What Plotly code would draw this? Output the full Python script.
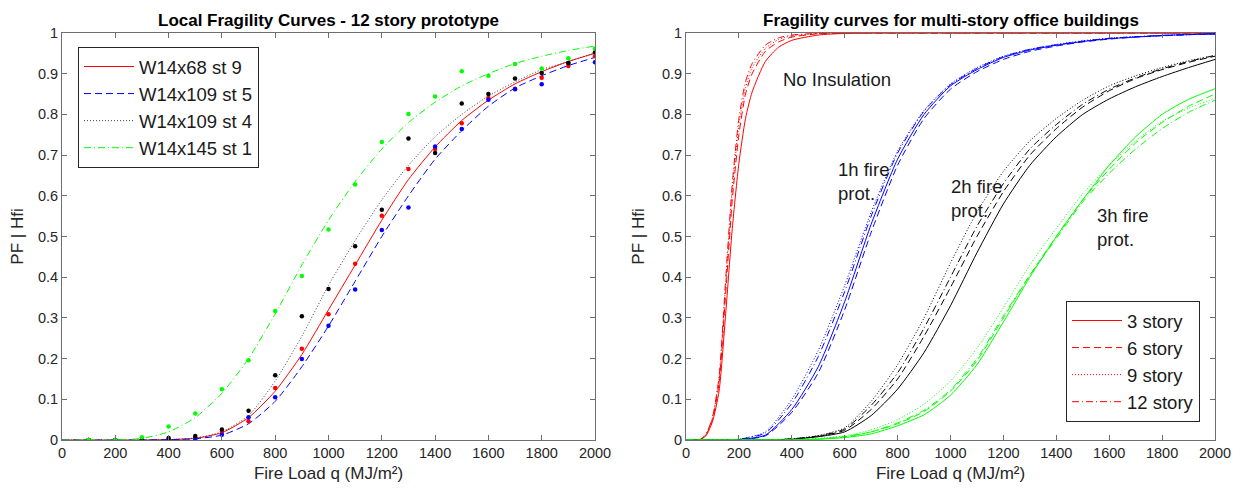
import plotly.graph_objects as go

# ---- left panel: local fragility curves (12 story prototype) ----
LOCAL_Q = [0, 100, 200, 300, 400, 500, 600, 700, 800, 900, 1000,
           1100, 1200, 1300, 1400, 1500, 1600, 1700, 1800, 1900, 2000]
LOCAL_NAMES = ["W14x68 st 9", "W14x109 st 5", "W14x109 st 4", "W14x145 st 1"]
LOCAL_FIT_RED = [0, 0, 0, 0, 0.001, 0.004, 0.018, 0.055, 0.12, 0.21, 0.32,
                 0.43, 0.54, 0.64, 0.72, 0.785, 0.835, 0.875, 0.905, 0.93, 0.95]
LOCAL_FIT_BLUE = [0, 0, 0, 0, 0.001, 0.003, 0.012, 0.04, 0.095, 0.18, 0.28,
                  0.39, 0.50, 0.60, 0.69, 0.76, 0.82, 0.865, 0.895, 0.92, 0.94]
LOCAL_FIT_BLACK = [0, 0, 0, 0, 0.001, 0.005, 0.02, 0.06, 0.145, 0.255, 0.38,
                   0.49, 0.59, 0.675, 0.745, 0.80, 0.845, 0.88, 0.91, 0.93, 0.952]
LOCAL_FIT_GREEN = [0, 0, 0, 0.004, 0.02, 0.055, 0.115, 0.20, 0.31, 0.43, 0.54,
                   0.635, 0.715, 0.78, 0.83, 0.87, 0.90, 0.925, 0.943, 0.957, 0.968]

PTS_Q = [100, 200, 300, 400, 500, 600, 700, 800, 900, 1000,
         1100, 1200, 1300, 1400, 1500, 1600, 1700, 1800, 1900, 2000]
PTS_RED = [0, 0, 0, 0, 0.005, 0.02, 0.046, 0.128, 0.224, 0.309,
           0.433, 0.551, 0.666, 0.715, 0.778, 0.840, 0.863, 0.890, 0.919, 0.943]
PTS_BLUE = [0, 0, 0, 0, 0.003, 0.013, 0.056, 0.105, 0.199, 0.281,
            0.370, 0.516, 0.571, 0.721, 0.764, 0.836, 0.862, 0.874, 0.926, 0.928]
PTS_BLACK = [0, 0, 0, 0.005, 0.01, 0.026, 0.072, 0.159, 0.304, 0.371,
             0.476, 0.566, 0.741, 0.705, 0.827, 0.850, 0.888, 0.902, 0.926, 0.953]
PTS_GREEN = [0, 0, 0.007, 0.033, 0.065, 0.125, 0.196, 0.317, 0.403, 0.517,
             0.628, 0.732, 0.801, 0.844, 0.906, 0.895, 0.924, 0.913, 0.938, 0.962]

# ---- right panel: multi-story office buildings ----
STORY_NAMES = ["3 story", "6 story", "9 story", "12 story"]
RED_Q = [0, 50, 75, 100, 125, 150, 175, 200, 225, 250, 300, 350, 400,
         500, 600, 800, 1000, 1500, 2000]
NOINS_3 = [0, 0, 0.01, 0.045, 0.12, 0.31, 0.52, 0.68, 0.79, 0.855, 0.93, 0.965,
           0.982, 0.995, 0.999, 1, 1, 1, 1]
NOINS_6 = [0, 0, 0.012, 0.05, 0.14, 0.36, 0.59, 0.75, 0.85, 0.90, 0.955, 0.978,
           0.99, 0.998, 1, 1, 1, 1, 1]
NOINS_9 = [0, 0, 0.013, 0.055, 0.15, 0.385, 0.615, 0.775, 0.865, 0.915, 0.962,
           0.984, 0.993, 0.999, 1, 1, 1, 1, 1]
NOINS_12 = [0, 0, 0.013, 0.055, 0.155, 0.395, 0.63, 0.79, 0.88, 0.925, 0.97,
            0.988, 0.995, 0.999, 1, 1, 1, 1, 1]

Q = LOCAL_Q
H1_3 = [0, 0, 0.001, 0.012, 0.075, 0.18, 0.34, 0.53, 0.69, 0.80, 0.87,
        0.91, 0.94, 0.958, 0.97, 0.979, 0.986, 0.99, 0.994, 0.996, 0.998]
H1_6 = [0, 0, 0.001, 0.01, 0.068, 0.165, 0.32, 0.51, 0.675, 0.79, 0.862,
        0.905, 0.935, 0.955, 0.968, 0.978, 0.985, 0.99, 0.993, 0.996, 0.997]
H1_9 = [0, 0, 0.002, 0.02, 0.10, 0.22, 0.38, 0.56, 0.71, 0.81, 0.875,
        0.915, 0.943, 0.96, 0.972, 0.981, 0.987, 0.991, 0.994, 0.996, 0.998]
H1_12 = [0, 0, 0.002, 0.017, 0.09, 0.205, 0.365, 0.55, 0.705, 0.808, 0.873,
         0.913, 0.942, 0.96, 0.971, 0.98, 0.987, 0.991, 0.994, 0.996, 0.998]

H2_3 = [0, 0, 0, 0, 0.002, 0.008, 0.02, 0.06, 0.125, 0.215, 0.33,
        0.46, 0.58, 0.675, 0.745, 0.80, 0.838, 0.868, 0.893, 0.915, 0.935]
H2_6 = [0, 0, 0, 0, 0.002, 0.009, 0.024, 0.075, 0.15, 0.255, 0.375,
        0.50, 0.61, 0.70, 0.765, 0.818, 0.858, 0.888, 0.91, 0.928, 0.943]
H2_9 = [0, 0, 0, 0, 0.003, 0.011, 0.03, 0.095, 0.185, 0.30, 0.435,
        0.56, 0.66, 0.735, 0.79, 0.835, 0.87, 0.895, 0.915, 0.932, 0.945]
H2_12 = [0, 0, 0, 0, 0.003, 0.01, 0.027, 0.085, 0.165, 0.275, 0.40,
         0.525, 0.63, 0.715, 0.775, 0.825, 0.862, 0.89, 0.912, 0.93, 0.945]

H3_3 = [0, 0, 0, 0, 0, 0.002, 0.006, 0.015, 0.035, 0.062, 0.11,
        0.185, 0.29, 0.40, 0.50, 0.59, 0.675, 0.745, 0.80, 0.837, 0.863]
H3_6 = [0, 0, 0, 0, 0, 0.002, 0.008, 0.02, 0.04, 0.07, 0.12,
        0.195, 0.30, 0.405, 0.50, 0.59, 0.665, 0.73, 0.78, 0.82, 0.85]
H3_9 = [0, 0, 0, 0, 0.001, 0.004, 0.01, 0.025, 0.05, 0.088, 0.145,
        0.225, 0.325, 0.43, 0.52, 0.605, 0.675, 0.735, 0.783, 0.815, 0.84]
H3_12 = [0, 0, 0, 0, 0, 0.002, 0.008, 0.02, 0.042, 0.073, 0.123,
         0.20, 0.305, 0.405, 0.495, 0.585, 0.655, 0.715, 0.765, 0.805, 0.835]

X_TICKS = [0, 200, 400, 600, 800, 1000, 1200, 1400, 1600, 1800, 2000]
Y_TICKS = [0, 0.1, 0.2, 0.3, 0.4, 0.5, 0.6, 0.7, 0.8, 0.9, 1]
Y_TICK_TEXT = ["0", "0.1", "0.2", "0.3", "0.4", "0.5", "0.6", "0.7", "0.8", "0.9", "1"]

RED, BLUE, BLACK, GREEN = "rgb(255,0,0)", "rgb(0,0,255)", "rgb(0,0,0)", "rgb(0,255,0)"
DASH = {"solid": "solid", "dash": "7px,4px", "dot": "1px,2px", "dashdot": "7px,3px,1px,3px"}
STYLES = ["solid", "dash", "dot", "dashdot"]
FONT = "Liberation Sans, Arial, sans-serif"

# the page body adds an 8px margin, so the figure is laid out in page px minus 8
W, H, OFF = 1232, 482, 8


def px_x(p):
    return (p - OFF) / W


def px_y(p):
    return 1 - (p - OFF) / H


fig = go.Figure()

local_fits = [LOCAL_FIT_RED, LOCAL_FIT_BLUE, LOCAL_FIT_BLACK, LOCAL_FIT_GREEN]
local_pts = [PTS_RED, PTS_BLUE, PTS_BLACK, PTS_GREEN]
local_cols = [RED, BLUE, "rgb(60,60,60)", GREEN]
for name, fit, col, st in zip(LOCAL_NAMES, local_fits, local_cols, STYLES):
    fig.add_trace(go.Scatter(x=LOCAL_Q, y=fit, name=name, mode="lines",
                             line=dict(color=col, width=1, dash=DASH[st], shape="spline", smoothing=0.6),
                             xaxis="x", yaxis="y", legend="legend"))
for pts, col in zip(local_pts, [RED, BLUE, BLACK, GREEN]):
    fig.add_trace(go.Scatter(x=PTS_Q, y=pts, mode="markers", showlegend=False,
                             marker=dict(color=col, size=4.5),
                             xaxis="x", yaxis="y"))

groups = [
    (RED_Q, [NOINS_3, NOINS_6, NOINS_9, NOINS_12], RED, True),
    (Q, [H1_3, H1_6, H1_9, H1_12], BLUE, False),
    (Q, [H2_3, H2_6, H2_9, H2_12], BLACK, False),
    (Q, [H3_3, H3_6, H3_9, H3_12], GREEN, False),
]
for xs, curves, col, show in groups:
    for name, ys, st in zip(STORY_NAMES, curves, STYLES):
        fig.add_trace(go.Scatter(x=xs, y=ys, name=name, mode="lines", showlegend=show,
                                 line=dict(color=col, width=1, dash=DASH[st], shape="spline", smoothing=0.6),
                                 xaxis="x2", yaxis="y2", legend="legend2"))

axis_common = dict(showline=True, mirror="ticks", linecolor="#6e6e6e", linewidth=1,
                   ticks="inside", ticklen=5, tickcolor="#6e6e6e", showgrid=False,
                   zeroline=False, automargin=False,
                   tickfont=dict(family=FONT, size=14.5, color="#262626"))
xa = dict(axis_common, range=[0, 2000], tickvals=X_TICKS,
          title=dict(text="Fire Load q (MJ/m²)", font=dict(family=FONT, size=17, color="#262626"), standoff=6))
ya = dict(axis_common, range=[0, 1], tickvals=Y_TICKS, ticktext=Y_TICK_TEXT,
          title=dict(text="PF | Hfi", font=dict(family=FONT, size=17, color="#262626"), standoff=12))

y_dom = [px_y(440), px_y(33)]
legend_common = dict(bgcolor="white", bordercolor="#262626", borderwidth=1, itemwidth=50,
                     font=dict(family=FONT, size=18.5, color="#1a1a1a"), tracegroupgap=0)
fig.update_layout(
    width=W, height=H, autosize=False,
    margin=dict(l=0, r=0, t=0, b=0, autoexpand=False),
    paper_bgcolor="white", plot_bgcolor="white",
    font=dict(family=FONT, color="#262626"),
    xaxis=dict(xa, domain=[px_x(62), px_x(595)], anchor="y"),
    yaxis=dict(ya, domain=y_dom, anchor="x"),
    xaxis2=dict(xa, domain=[px_x(686), px_x(1215)], anchor="y2"),
    yaxis2=dict(ya, domain=y_dom, anchor="x2"),
    legend=dict(legend_common, x=px_x(78), y=px_y(47), xanchor="left", yanchor="top"),
    legend2=dict(legend_common, x=px_x(1200), y=px_y(422), xanchor="right", yanchor="bottom"),
    showlegend=True,
)

title_font = dict(family=FONT, size=17, color="#000000", weight="bold")
fig.add_annotation(text="Local Fragility Curves - 12 story prototype", xref="x domain", yref="paper",
                   x=0.5, y=px_y(20), xanchor="center", yanchor="middle", showarrow=False, font=title_font)
fig.add_annotation(text="Fragility curves for multi-story office buildings", xref="x2 domain", yref="paper",
                   x=0.5, y=px_y(20), xanchor="center", yanchor="middle", showarrow=False, font=title_font)

label_font = dict(family=FONT, size=18.5, color="#1a1a1a")
LABELS = [("No Insulation", 359, 0.885), ("1h fire<br>prot.", 567, 0.636),
          ("2h fire<br>prot.", 995, 0.593), ("3h fire<br>prot.", 1546, 0.521)]
for txt, lx, ly in LABELS:
    fig.add_annotation(text=txt, x=lx, y=ly, xref="x2", yref="y2", showarrow=False,
                       xanchor="left", yanchor="middle", align="left", font=label_font)

fig.write_html("out.html")
